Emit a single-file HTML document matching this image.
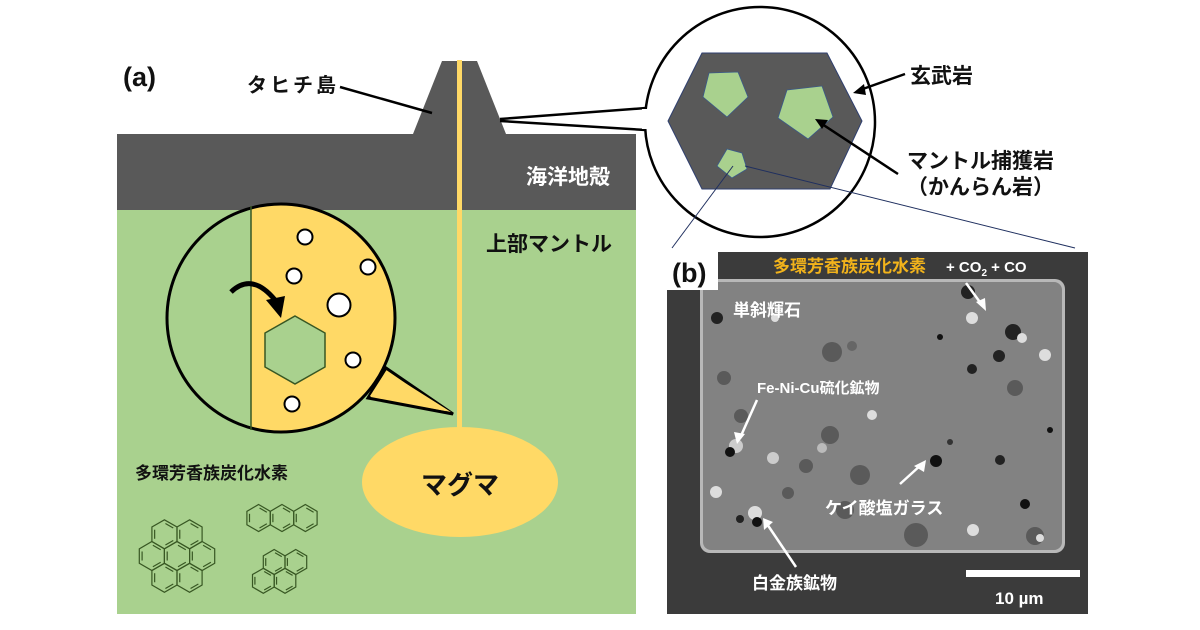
<!DOCTYPE html>
<html><head><meta charset="utf-8"><style>
html,body{margin:0;padding:0;background:#fff}
svg{display:block}
text{font-family:"Liberation Sans","Noto Sans CJK JP",sans-serif;font-weight:bold}
</style></head><body>
<svg id="s" width="1200" height="630" viewBox="0 0 1200 630" xmlns="http://www.w3.org/2000/svg">
<rect width="1200" height="630" fill="#fff"/>
<rect x="117" y="210" width="519" height="404" fill="#a9d18e"/>
<rect x="117" y="134" width="519" height="76" fill="#595959"/>
<polygon points="413,134 442,61 477,61 506,134" fill="#595959"/>
<rect x="457" y="60" width="5" height="390" fill="#ffd966"/>
<ellipse cx="460" cy="482" rx="98" ry="55" fill="#ffd966"/>
<text x="460" y="494" font-size="26" text-anchor="middle" fill="#111">マグマ</text>
<text x="610" y="184" font-size="21" text-anchor="end" fill="#fff">海洋地殻</text>
<text x="612" y="251" font-size="21" text-anchor="end" fill="#111">上部マントル</text>
<rect x="120" y="52" width="43" height="44" fill="#fff"/>
<text x="123" y="86" font-size="27" fill="#111">(a)</text>
<text x="247" y="92" font-size="20" fill="#111" letter-spacing="3">タヒチ島</text>
<line x1="340" y1="87" x2="432" y2="113" stroke="#000" stroke-width="2.5"/>
<defs><clipPath id="cc"><circle cx="281" cy="318" r="114"/></clipPath></defs>
<g clip-path="url(#cc)">
<rect x="160" y="200" width="91" height="240" fill="#a9d18e"/>
<rect x="251" y="200" width="160" height="240" fill="#ffd966"/>
</g>
<polygon points="386,368 453,414 368,398" fill="#ffd966" stroke="#000" stroke-width="3" stroke-linejoin="miter"/>
<circle cx="281" cy="318" r="114" fill="none" stroke="#000" stroke-width="3"/>
<polygon points="386,371 451,412 370,396" fill="#ffd966"/>
<line x1="251" y1="206" x2="251" y2="430" stroke="#385723" stroke-width="1.5"/>
<polygon points="295,316 325,333 325,367 295,384 265,367 265,333" fill="#a9d18e" stroke="#385723" stroke-width="1.5"/>
<g fill="#fff" stroke="#000" stroke-width="2">
<circle cx="305" cy="237" r="7.5"/><circle cx="294" cy="276" r="7.5"/><circle cx="368" cy="267" r="7.5"/>
<circle cx="339" cy="305" r="11.5"/><circle cx="353" cy="360" r="7.5"/><circle cx="292" cy="404" r="7.5"/>
</g>
<path d="M231,292 Q252,272 275,300" fill="none" stroke="#000" stroke-width="5"/>
<polygon points="266,300 285,296 281,318" fill="#000"/>
<text x="135" y="479" font-size="17" fill="#111">多環芳香族炭化水素</text>
<g id="mol" fill="none" stroke="#385723" stroke-width="1.2"></g>
<line x1="500" y1="119" x2="646" y2="108" stroke="#000" stroke-width="2.5"/>
<line x1="500" y1="121" x2="646" y2="130" stroke="#000" stroke-width="2.5"/>
<circle cx="760" cy="122" r="115" fill="#fff" stroke="#000" stroke-width="2.5"/>
<rect x="642" y="109" width="8" height="20" fill="#fff"/>
<polygon points="702,53 827,53 862,121 830,189 702,189 668,121" fill="#595959" stroke="#2f3f6f" stroke-width="1"/>
<g fill="#a9d18e" stroke="#3a5a8a" stroke-width="0.8">
<polygon points="709,73 738,72 748,97 727,117 703,97"/>
<polygon points="787,90 822,86 833,117 808,139 778,118"/>
<polygon points="727,149 742,153 747,169 732,178 717,166"/>
</g>
<line x1="733" y1="166" x2="672" y2="248" stroke="#1f2f5f" stroke-width="1"/>
<line x1="745" y1="166" x2="1075" y2="248" stroke="#1f2f5f" stroke-width="1"/>
<text x="910" y="83" font-size="21" fill="#111">玄武岩</text>
<line x1="905" y1="74" x2="860" y2="90" stroke="#000" stroke-width="2.5"/>
<polygon points="853,93 864,84 866,95" fill="#000"/>
<text x="907" y="168" font-size="21" fill="#111">マントル捕獲岩</text>
<text x="907" y="194" font-size="21" fill="#111">（かんらん岩）</text>
<line x1="898" y1="174" x2="822" y2="124" stroke="#000" stroke-width="2.5"/>
<polygon points="815,119 828,120 822,129" fill="#000"/>
<rect x="667" y="252" width="421" height="362" fill="#3b3b3b"/>
<rect x="700" y="279" width="365" height="274" rx="10" fill="#b8b8b8"/>
<rect x="703" y="282" width="359" height="268" rx="8" fill="#828282"/>
<g id="inc"></g>
<rect x="667" y="252" width="51" height="38" fill="#fff"/>
<text x="672" y="282" font-size="27" fill="#111">(b)</text>
<text x="773" y="272" font-size="17" fill="#f2b31b">多環芳香族炭化水素</text>
<text x="946" y="272" font-size="15" fill="#fff">+ CO<tspan font-size="10" dy="4">2</tspan><tspan dy="-4"> + CO</tspan></text>
<text x="733" y="316" font-size="17" fill="#fff">単斜輝石</text>
<text x="757" y="393" font-size="15" fill="#fff">Fe-Ni-Cu硫化鉱物</text>
<text x="825" y="514" font-size="17" fill="#fff">ケイ酸塩ガラス</text>
<text x="752" y="589" font-size="17" fill="#fff">白金族鉱物</text>
<rect x="966" y="570" width="114" height="7" fill="#fff"/>
<text x="995" y="604" font-size="17" fill="#fff">10 µm</text>
<g stroke="#fff" stroke-width="2.5">
<line x1="966" y1="283" x2="982" y2="305"/><line x1="757" y1="400" x2="740" y2="438"/>
<line x1="900" y1="484" x2="922" y2="464"/><line x1="796" y1="567" x2="767" y2="524"/>
</g>
<g fill="#fff">
<polygon points="986,311 976,302 985,298"/><polygon points="737,444 734,432 745,434"/>
<polygon points="926,460 924,472 914,466"/><polygon points="763,518 773,522 764,530"/>
</g>
</svg>
<script>
var NS="http://www.w3.org/2000/svg";
function hex(g,cx,cy,r){var p=[];for(var i=0;i<6;i++){var a=Math.PI/180*(60*i-90);p.push((cx+r*Math.cos(a)).toFixed(1)+","+(cy+r*Math.sin(a)).toFixed(1));}
var e=document.createElementNS(NS,"polygon");e.setAttribute("points",p.join(" "));g.appendChild(e);
var q=[];for(var i=0;i<3;i++){var a1=Math.PI/180*(120*i-90),a2=a1+Math.PI/3,k=0.78;
var l=document.createElementNS(NS,"line");
var x1=cx+r*k*Math.cos(a1),y1=cy+r*k*Math.sin(a1),x2=cx+r*k*Math.cos(a2),y2=cy+r*k*Math.sin(a2);
var mx=(x1+x2)/2,my=(y1+y2)/2;x1=mx+(x1-mx)*0.8;y1=my+(y1-my)*0.8;x2=mx+(x2-mx)*0.8;y2=my+(y2-my)*0.8;
l.setAttribute("x1",x1);l.setAttribute("y1",y1);l.setAttribute("x2",x2);l.setAttribute("y2",y2);g.appendChild(l);}}
var g=document.getElementById("mol");
var r=14.5,w=r*Math.sqrt(3),cx=177,cy=556;
hex(g,cx,cy,r);hex(g,cx-w,cy,r);hex(g,cx+w,cy,r);hex(g,cx-w/2,cy-1.5*r,r);hex(g,cx+w/2,cy-1.5*r,r);hex(g,cx-w/2,cy+1.5*r,r);hex(g,cx+w/2,cy+1.5*r,r);
var ra=13.5,wa=ra*Math.sqrt(3);for(var i=-1;i<=1;i++){hex(g,282+i*wa,518,ra);}
r=12.5;w=r*Math.sqrt(3);
hex(g,285-w/2,562,r);hex(g,285+w/2,562,r);hex(g,285-w,562+1.5*r,r);hex(g,285,562+1.5*r,r);
var inc=document.getElementById("inc");
var pts=[[717,318,6,"#222"],[775,318,4,"#ddd"],[832,352,10,"#5a5a5a"],[852,346,5,"#666"],[830,435,9,"#5a5a5a"],[860,475,10,"#5a5a5a"],[936,461,6,"#111"],[736,446,7,"#ccc"],[730,452,5,"#111"],[773,458,6,"#ccc"],[822,448,5,"#bbb"],[872,415,5,"#ddd"],[950,442,3,"#333"],[968,292,7,"#222"],[972,318,6,"#ddd"],[1013,332,8,"#222"],[1022,338,5,"#ddd"],[999,356,6,"#222"],[1045,355,6,"#ddd"],[972,369,5,"#222"],[940,337,3,"#111"],[1015,388,8,"#5a5a5a"],[741,416,7,"#5a5a5a"],[724,378,7,"#5a5a5a"],[806,466,7,"#5a5a5a"],[845,510,9,"#5a5a5a"],[916,535,12,"#5a5a5a"],[755,513,7,"#ddd"],[757,522,5,"#111"],[716,492,6,"#ddd"],[788,493,6,"#5a5a5a"],[1000,460,5,"#222"],[1025,504,5,"#111"],[1035,536,9,"#5a5a5a"],[1040,538,4,"#ddd"],[973,530,6,"#ddd"],[740,519,4,"#222"],[1050,430,3,"#111"]];
pts.forEach(function(d){var c=document.createElementNS(NS,"circle");c.setAttribute("cx",d[0]);c.setAttribute("cy",d[1]);c.setAttribute("r",d[2]);c.setAttribute("fill",d[3]);inc.appendChild(c);});
</script>
</body></html>
